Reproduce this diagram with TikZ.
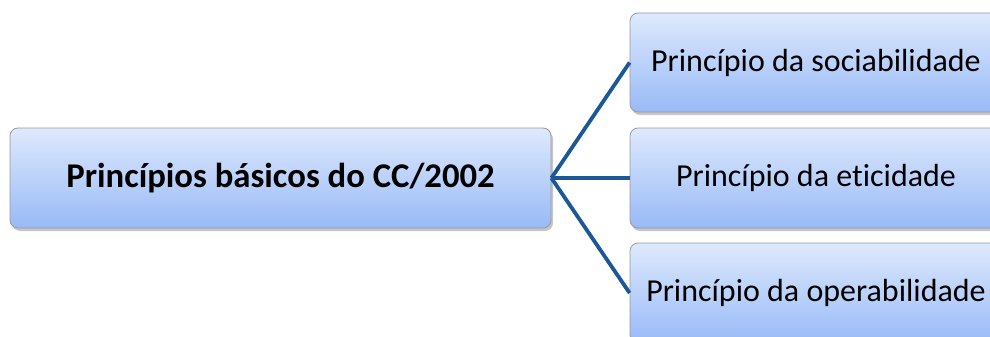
\documentclass[tikz,border=0pt]{standalone}
\usepackage{fontspec}
\setmainfont{Carlito}[Ligatures=NoCommon]
\usetikzlibrary{shadows}

\definecolor{boxtop}{RGB}{222,233,253}
\definecolor{boxbottom}{RGB}{152,186,247}
\definecolor{linkblue}{RGB}{28,88,152}

\begin{document}
\begin{tikzpicture}[x=1pt, y=-1pt,
    pbox/.style={draw=gray!80, line width=0.8pt, rounded corners=8pt,
      top color=boxtop, bottom color=boxbottom,
      drop shadow={opacity=0.45, shadow xshift=2pt, shadow yshift=-3pt},
      font=\fontsize{32}{38}\selectfont, inner sep=0pt},
    link/.style={line width=3.8pt, color=linkblue}]
    \useasboundingbox (0,0) rectangle (990,337);
    \clip (0,0) rectangle (990,337);

    \node[pbox, minimum width=541pt, minimum height=100pt] (main) at (280.5,178) {\fontsize{34.7}{40}\selectfont\bfseries Princípios básicos do CC/2002};

    \node[pbox, minimum width=372pt, minimum height=99pt] (soc) at (816,62.5) {Princípio da sociabilidade};
    \node[pbox, minimum width=372pt, minimum height=100pt] (eti) at (816,178) {Princípio da eticidade};
    \node[pbox, minimum width=372pt, minimum height=100pt] (ope) at (816,293) {Princípio da operabilidade};

    \draw[link] (main.east) -- (soc.west);
    \draw[link] (main.east) -- (eti.west);
    \draw[link] (main.east) -- (ope.west);
\end{tikzpicture}
\end{document}
